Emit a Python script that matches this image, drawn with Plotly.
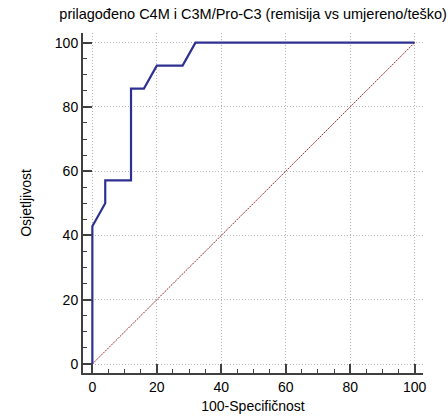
import plotly.graph_objects as go

fpr = [0, 0, 4, 4, 12, 12, 16, 20, 28, 32, 100]
tpr = [0, 42.86, 50, 57.14, 57.14, 85.71, 85.71, 92.86, 92.86, 100, 100]
diag_x = [0, 100]
diag_y = [0, 100]
ticks = [0, 20, 40, 60, 80, 100]

fig = go.Figure()
fig.add_trace(go.Scatter(x=diag_x, y=diag_y, mode="lines",
                         line=dict(color="#a02828", width=1, dash="2px,1px"),
                         showlegend=False, hoverinfo="skip"))
fig.add_trace(go.Scatter(x=fpr, y=tpr, mode="lines",
                         line=dict(color="#2e3192", width=2.2),
                         showlegend=False))

axis_common = dict(
    showline=True, linecolor="#404040", linewidth=2,
    showgrid=True, gridcolor="#b4b4b4", griddash="1px,2px", gridwidth=1,
    zeroline=False, ticks="inside", ticklen=9, tickwidth=1.5, tickcolor="#404040",
    tickvals=ticks, ticktext=[str(t) for t in ticks],
    tickfont=dict(family="Liberation Sans, Arial", size=14, color="#000"),
    minor=dict(dtick=5, tick0=0, ticks="inside", ticklen=4, tickwidth=1, tickcolor="#404040", showgrid=False),
    mirror=False, automargin=False,
)

fig.update_layout(
    width=448, height=420,
    margin=dict(l=83, r=25, t=33, b=47),
    paper_bgcolor="white", plot_bgcolor="white",
    font=dict(family="Liberation Sans, Arial", size=14, color="#000"),
    title=dict(text="prilagođeno C4M i C3M/Pro-C3 (remisija vs umjereno/teško)",
               x=0.565, xanchor="center", y=0.978, yanchor="top",
               font=dict(size=14.5)),
    xaxis=dict(range=[-2.9, 102.6], title=dict(text="100-Specifičnost", standoff=7, font=dict(size=14)), **axis_common),
    yaxis=dict(range=[-2.8, 103], title=dict(text="Osjetljivost", standoff=20, font=dict(size=14)), **axis_common),
)

fig.write_html("out.html", config={"displayModeBar": False},
               post_script="document.body.style.margin='0px';document.body.style.padding='0px';")
